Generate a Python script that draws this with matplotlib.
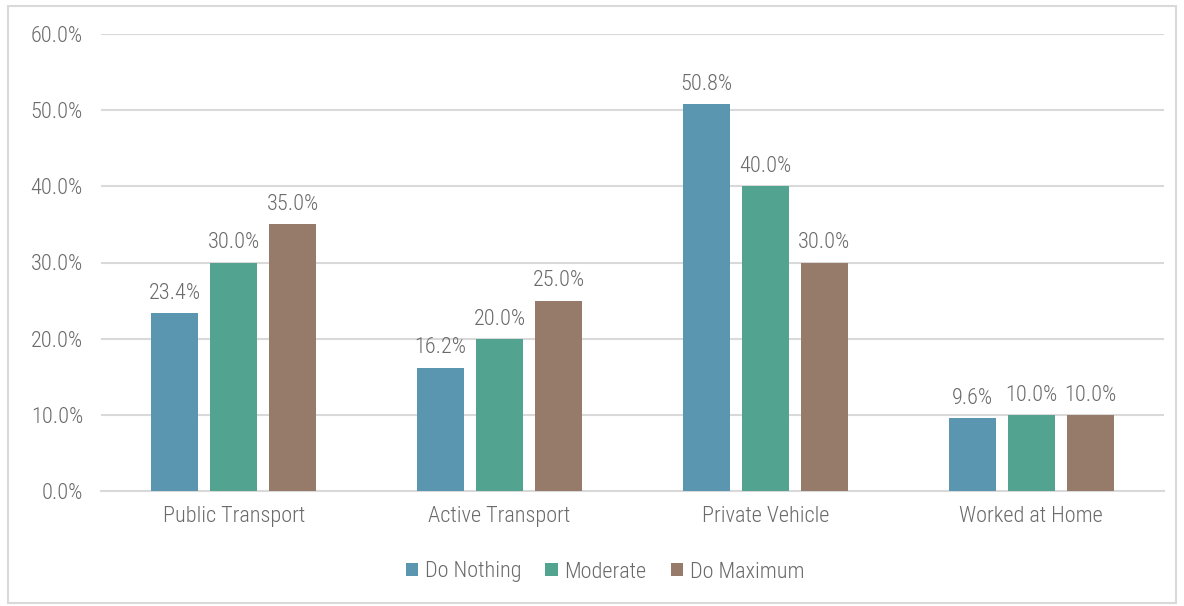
import matplotlib
matplotlib.use("Agg")
import matplotlib.pyplot as plt
from matplotlib.patches import Rectangle
import numpy as np

categories = ["Public Transport", "Active Transport", "Private Vehicle", "Worked at Home"]
series_names = ["Do Nothing", "Moderate", "Do Maximum"]
do_nothing = [23.4, 16.2, 50.8, 9.6]
moderate = [30.0, 20.0, 40.0, 10.0]
do_maximum = [35.0, 25.0, 30.0, 10.0]
y_ticks = [0, 10, 20, 30, 40, 50, 60]

colors = ["#5B96B0", "#52A390", "#977B6A"]
text_color = "#6A6A6A"
grid_color = "#D9D9D9"

plt.rcParams["font.family"] = ["Roboto Condensed", "DejaVu Sans"]
plt.rcParams["font.weight"] = 300

fig = plt.figure(figsize=(11.84, 6.06), dpi=100)
fig.patches.append(Rectangle((0.007, 0.005), 0.986, 0.985, transform=fig.transFigure,
                             fill=False, edgecolor=grid_color, linewidth=1.5))

W, H = 1184, 606
ax = fig.add_axes([101 / W, 1 - 491 / H, (1164 - 101) / W, (491 - 34) / H])

x = np.arange(len(categories))
bw = 0.177
step = 0.222
for i, (vals, name) in enumerate(zip([do_nothing, moderate, do_maximum], series_names)):
    pos = x + (i - 1) * step
    ax.bar(pos, vals, width=bw, color=colors[i], label=name, zorder=3)
    for p, v in zip(pos, vals):
        ax.text(p, v + 1.2, f"{v:.1f}%", ha="center", va="bottom",
                fontsize=16, color=text_color)

ax.set_xlim(-0.5, len(categories) - 0.5)
ax.set_ylim(0, 60)
ax.set_yticks(y_ticks)
ax.set_yticklabels([f"{t:.1f}%" for t in y_ticks])
ax.set_xticks(x)
ax.set_xticklabels(categories)
ax.tick_params(axis="both", length=0, labelsize=16, labelcolor=text_color)
ax.tick_params(axis="y", pad=13)
ax.tick_params(axis="x", pad=11)
ax.grid(axis="y", color=grid_color, linewidth=1.5, zorder=0)
for s in ["top", "right", "left"]:
    ax.spines[s].set_visible(False)
ax.spines["bottom"].set_color(grid_color)
ax.spines["bottom"].set_linewidth(1.5)

fig.legend(loc="center", bbox_to_anchor=(605 / W, 1 - 572 / H), ncol=3,
           frameon=False, fontsize=16, handlelength=0.55, handleheight=0.55,
           handletextpad=0.3, columnspacing=1.1, labelcolor=text_color)

fig.savefig("out.png", dpi=100)
